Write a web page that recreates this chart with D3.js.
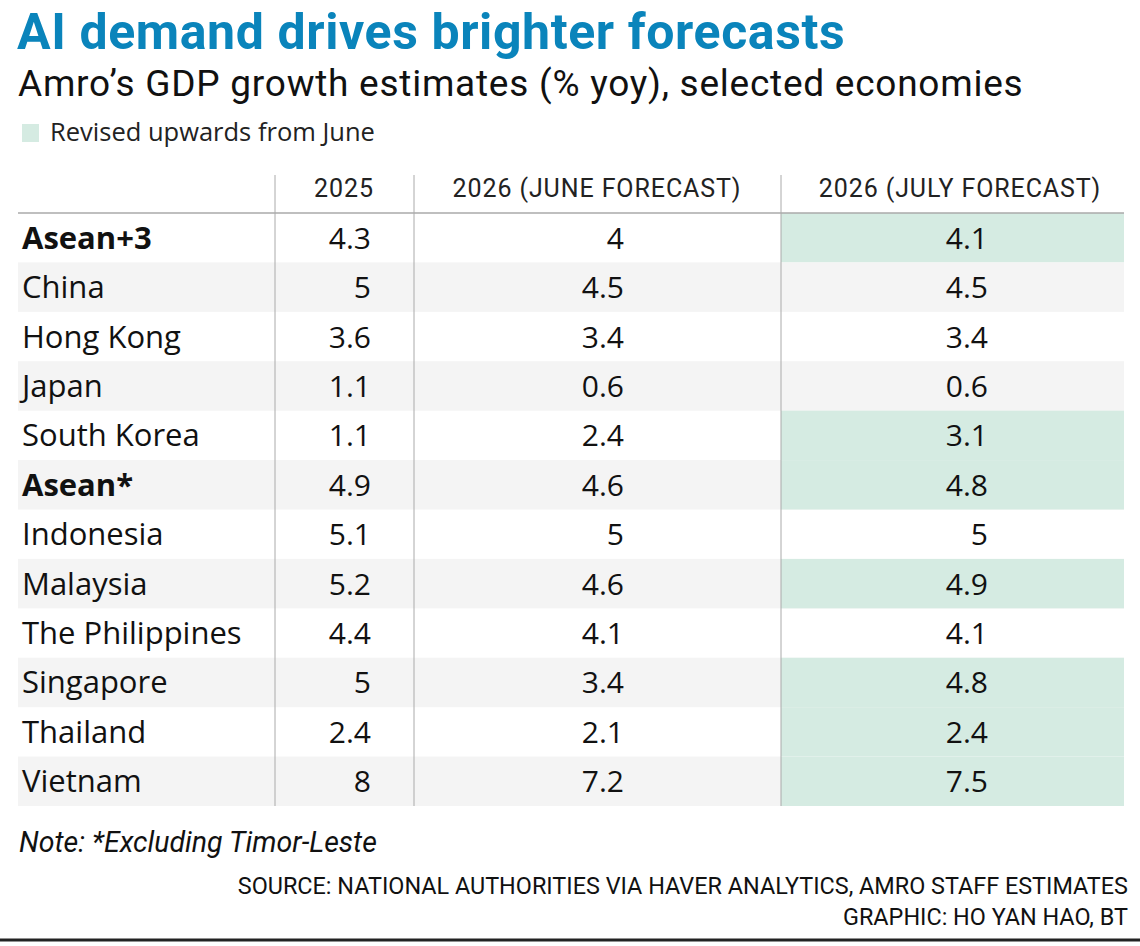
<!DOCTYPE html>
<html>
<head>
<meta charset="utf-8">
<script src="https://cdn.jsdelivr.net/npm/d3@7"></script>
<style>
  body { margin: 0; background: #fff; }
  text { font-family: "Open Sans", Roboto, sans-serif; fill: #111; }
  .cond { font-family: Roboto, "Open Sans", sans-serif; }
</style>
</head>
<body>
<div id="chart"></div>
<script>
// data
var economies = ["Asean+3", "China", "Hong Kong", "Japan", "South Korea", "Asean*",
    "Indonesia", "Malaysia", "The Philippines", "Singapore", "Thailand", "Vietnam"];
var boldRows = ["Asean+3", "Asean*"];
var columns = ["2025", "2026 (JUNE FORECAST)", "2026 (JULY FORECAST)"];
var growth2025 = ["4.3", "5", "3.6", "1.1", "1.1", "4.9", "5.1", "5.2", "4.4", "5", "2.4", "8"];
var juneForecast = ["4", "4.5", "3.4", "0.6", "2.4", "4.6", "5", "4.6", "4.1", "3.4", "2.1", "7.2"];
var julyForecast = ["4.1", "4.5", "3.4", "0.6", "3.1", "4.8", "5", "4.9", "4.1", "4.8", "2.4", "7.5"];

var width = 1140, height = 946;
var blue = "#0a84bb", green = "#d5ebe2", stripe = "#f4f4f4", rule = "#aaa";

var svg = d3.select("#chart").append("svg")
    .attr("width", width)
    .attr("height", height);

// titles
svg.append("text")
    .attr("class", "cond")
    .attr("x", 17).attr("y", 49)
    .style("font-size", "50px").style("font-weight", 700)
    .style("fill", blue).style("letter-spacing", "0.6px")
    .text("AI demand drives brighter forecasts");

svg.append("text")
    .attr("class", "cond")
    .attr("x", 18).attr("y", 96)
    .style("font-size", "37px").style("letter-spacing", "0.75px")
    .text("Amro\u2019s GDP growth estimates (% yoy), selected economies");

// legend
svg.append("rect")
    .attr("x", 22).attr("y", 124).attr("width", 17).attr("height", 18)
    .attr("fill", green);
svg.append("text")
    .attr("x", 50).attr("y", 141)
    .style("font-size", "25.5px").style("fill", "#222")
    .text("Revised upwards from June");

// table layout
var tableLeft = 18, tableRight = 1124;
var colEdges = [tableLeft, 275, 414, 781, tableRight];

var y = d3.scaleBand()
    .domain(economies)
    .range([213, 806]);

var rows = svg.append("g").selectAll("g")
    .data(economies)
    .join("g")
    .attr("transform", d => "translate(0," + y(d) + ")");

// zebra stripes
rows.filter((d, i) => i % 2 == 1)
    .append("rect")
    .attr("x", tableLeft).attr("width", tableRight - tableLeft)
    .attr("height", y.bandwidth())
    .attr("fill", stripe);

// green highlight where July is above June
rows.filter((d, i) => +julyForecast[i] > +juneForecast[i])
    .append("rect")
    .attr("x", colEdges[3]).attr("width", tableRight - colEdges[3])
    .attr("height", y.bandwidth())
    .attr("fill", green);

// row labels
rows.append("text")
    .attr("x", 22)
    .attr("y", y.bandwidth() / 2 + 11)
    .style("font-size", "31px")
    .style("font-weight", d => boldRows.includes(d) ? 700 : 400)
    .text(d => d);

// values, right aligned in each column
var valueCols = [growth2025, juneForecast, julyForecast];
var valueRight = [371, 624, 988];
valueCols.forEach(function(vals, c) {
    rows.append("text")
        .attr("x", valueRight[c])
        .attr("y", y.bandwidth() / 2 + 11)
        .attr("text-anchor", "end")
        .style("font-size", "30px")
        .text((d, i) => vals[i]);
});

// header
var headerCenter = [344, 597, 960];
svg.append("g").selectAll("text")
    .data(columns)
    .join("text")
    .attr("class", "cond")
    .attr("x", (d, i) => headerCenter[i])
    .attr("y", 197)
    .attr("text-anchor", "middle")
    .style("font-size", "25px")
    .style("letter-spacing", "0.9px")
    .style("fill", "#222")
    .text(d => d);

// rules
svg.append("line")
    .attr("x1", tableLeft).attr("x2", tableRight)
    .attr("y1", 213).attr("y2", 213)
    .attr("stroke", rule).attr("stroke-width", 1.5);

svg.append("g").selectAll("line")
    .data(colEdges.slice(1, 4))
    .join("line")
    .attr("x1", d => d).attr("x2", d => d)
    .attr("y1", 175).attr("y2", 806)
    .attr("stroke", rule).attr("stroke-width", 1);

// notes
svg.append("text")
    .attr("class", "cond")
    .attr("x", 19).attr("y", 852)
    .style("font-size", "28.5px").style("font-style", "italic")
    .text("Note: *Excluding Timor-Leste");

svg.append("text")
    .attr("class", "cond")
    .attr("x", 1128).attr("y", 894)
    .attr("text-anchor", "end")
    .style("font-size", "23.4px")
    .text("SOURCE: NATIONAL AUTHORITIES VIA HAVER ANALYTICS, AMRO STAFF ESTIMATES");

svg.append("text")
    .attr("class", "cond")
    .attr("x", 1128).attr("y", 925)
    .attr("text-anchor", "end")
    .style("font-size", "23.4px")
    .text("GRAPHIC: HO YAN HAO, BT");

svg.append("line")
    .attr("x1", 0).attr("x2", width)
    .attr("y1", 940).attr("y2", 940)
    .attr("stroke", "#222").attr("stroke-width", 3);
</script>
</body>
</html>
